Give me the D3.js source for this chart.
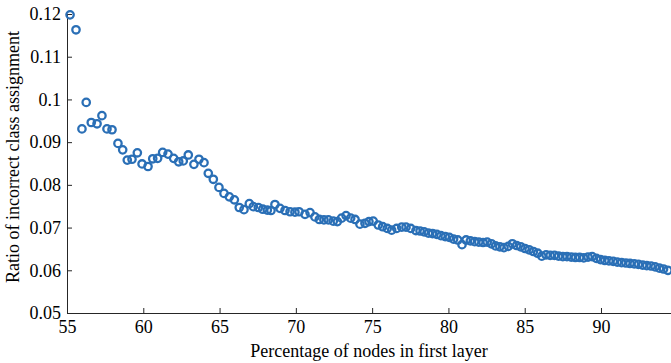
<!DOCTYPE html>
<html>
<head>
<meta charset="utf-8">
<script src="https://cdn.jsdelivr.net/npm/d3@7"></script>
<style>
body { margin: 0; background: #fff; }
svg { display: block; }
.axis path, .axis line { stroke: #262626; }
.axis text { font-family: "Liberation Serif", "Times New Roman", serif; font-size: 18px; fill: #000; }
.title { font-family: "Liberation Serif", "Times New Roman", serif; font-size: 18px; fill: #000; }
</style>
</head>
<body>
<div id="chart"></div>
<script>
// percentage of nodes in first layer
var xValues = [
    55.20, 55.59, 55.98, 56.26, 56.59, 56.97, 57.29, 57.62, 57.95, 58.34,
    58.65, 58.95, 59.26, 59.61, 59.92, 60.31, 60.62, 60.94, 61.27, 61.62,
    61.99, 62.32, 62.62, 62.95, 63.32, 63.65, 63.98, 64.26, 64.59, 64.96,
    65.29, 65.64, 65.97, 66.29, 66.60, 66.95, 67.21, 67.54, 67.83, 68.13,
    68.37, 68.63, 68.96, 69.29, 69.62, 69.94, 70.21, 70.60, 70.93, 71.25,
    71.54, 71.84, 72.13, 72.45, 72.72, 73.00, 73.29, 73.59, 73.88, 74.20,
    74.53, 74.79, 75.07, 75.40, 75.69, 75.99, 76.28, 76.61, 76.94, 77.22,
    77.53, 77.87, 78.14, 78.41, 78.69, 78.96, 79.24, 79.51, 79.79, 80.06,
    80.34, 80.61, 80.89, 81.16, 81.44, 81.72, 81.99, 82.27, 82.54, 82.82,
    83.09, 83.37, 83.64, 83.92, 84.19, 84.47, 84.74, 85.02, 85.29, 85.57,
    85.85, 86.12, 86.40, 86.67, 86.95, 87.22, 87.50, 87.77, 88.05, 88.32,
    88.60, 88.87, 89.15, 89.42, 89.70, 89.97, 90.25, 90.52, 90.80, 91.07,
    91.35, 91.63, 91.90, 92.18, 92.45, 92.73, 93.00, 93.28, 93.55, 93.83,
    94.10, 94.38
];

// ratio of incorrect class assignment
var yValues = [
    0.1198, 0.1163, 0.0931, 0.0993, 0.0946, 0.0943, 0.0962, 0.0931, 0.0929, 0.0897,
    0.0882, 0.0858, 0.0860, 0.0875, 0.0849, 0.0843, 0.0861, 0.0862, 0.0876, 0.0872,
    0.0862, 0.0854, 0.0856, 0.0870, 0.0848, 0.0860, 0.0852, 0.0827, 0.0813, 0.0794,
    0.0780, 0.0772, 0.0765, 0.0747, 0.0742, 0.0756, 0.0749, 0.0747, 0.0743, 0.0741,
    0.0740, 0.0754, 0.0745, 0.0740, 0.0737, 0.0736, 0.0737, 0.0731, 0.0735, 0.0725,
    0.0719, 0.0718, 0.0718, 0.0715, 0.0714, 0.0722, 0.0728, 0.0722, 0.0719, 0.0708,
    0.0710, 0.0714, 0.0715, 0.0706, 0.0702, 0.0698, 0.0694, 0.0698, 0.0701, 0.0701,
    0.0698, 0.0693, 0.0692, 0.0690, 0.0687, 0.0686, 0.0684, 0.0681, 0.0679, 0.0677,
    0.0673, 0.0671, 0.0660, 0.0671, 0.0669, 0.0667, 0.0666, 0.0665, 0.0666, 0.0662,
    0.0657, 0.0655, 0.0653, 0.0656, 0.0662, 0.0658, 0.0655, 0.0651, 0.0648, 0.0644,
    0.0640, 0.0633, 0.0636, 0.0635, 0.0635, 0.0633, 0.0632, 0.0632, 0.0631, 0.0630,
    0.0630, 0.0629, 0.0631, 0.0632, 0.0628, 0.0625, 0.0623, 0.0622, 0.0621, 0.0619,
    0.0618, 0.0617, 0.0616, 0.0615, 0.0614, 0.0612, 0.0611, 0.0610, 0.0608, 0.0605,
    0.0603, 0.0600
];

var xTicks = [55, 60, 65, 70, 75, 80, 85, 90];
var yTicks = [0.05, 0.06, 0.07, 0.08, 0.09, 0.1, 0.11, 0.12];

var width = 671;
var height = 363;
var margin = { top: 14, left: 67, bottom: 50 };

var x = d3.scaleLinear().domain([55, 95]).range([margin.left, margin.left + 40 * 15.257]);
var y = d3.scaleLinear().domain([0.05, 0.12]).range([height - margin.bottom, margin.top]);

var svg = d3.select("#chart").append("svg")
    .attr("width", width)
    .attr("height", height);

var points = xValues.map(function(d, i) {
    return { x: d, y: yValues[i] };
});

svg.append("g")
    .attr("class", "axis")
    .attr("transform", "translate(0," + y(0.05) + ")")
    .call(d3.axisBottom(x).tickValues(xTicks).tickSizeInner(-5).tickSizeOuter(0).tickPadding(7)
        .tickFormat(d3.format("d")));

svg.append("g")
    .attr("class", "axis")
    .attr("transform", "translate(" + x(55) + ",0)")
    .call(d3.axisLeft(y).tickValues(yTicks).tickSizeInner(-5).tickSizeOuter(0).tickPadding(6)
        .tickFormat(function(d) { return String(+d.toFixed(2)); }));

svg.selectAll(".pt")
    .data(points).enter().append("circle")
    .attr("class", "pt")
    .attr("cx", function(d) { return x(d.x); })
    .attr("cy", function(d) { return y(d.y); })
    .attr("r", 3.7)
    .style("fill", "none")
    .style("stroke", "#2a6fb6")
    .style("stroke-width", 2.3);

svg.append("text")
    .attr("class", "title")
    .attr("x", 369)
    .attr("y", 357)
    .style("text-anchor", "middle")
    .text("Percentage of nodes in first layer");

svg.append("text")
    .attr("class", "title")
    .attr("transform", "translate(19," + 157 + ") rotate(-90)")
    .style("text-anchor", "middle")
    .text("Ratio of incorrect class assignment");
</script>
</body>
</html>
